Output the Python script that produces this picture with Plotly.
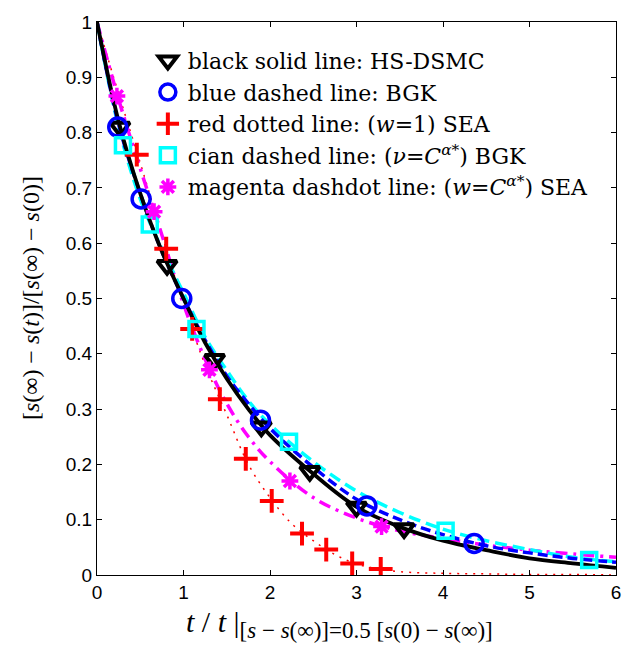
import plotly.graph_objects as go

# ---- line data ----
x_black = [0, 0.25, 0.5, 0.75, 1, 1.25, 1.5, 1.75, 2, 2.5, 3, 3.5, 4, 4.5, 5, 5.5, 6]
y_black = [1.0, 0.82, 0.69, 0.585, 0.50, 0.42, 0.355, 0.30, 0.253, 0.183, 0.123, 0.087, 0.062, 0.045, 0.03, 0.021, 0.013]

x_blue = [0, 0.25, 0.5, 0.75, 1, 1.25, 1.5, 1.75, 2, 2.5, 3, 3.5, 4, 4.5, 5, 5.5, 6]
y_blue = [1.0, 0.815, 0.69, 0.585, 0.50, 0.425, 0.36, 0.31, 0.265, 0.195, 0.137, 0.10, 0.073, 0.053, 0.04, 0.03, 0.023]

x_red = [0, 0.25, 0.5, 0.75, 1, 1.25, 1.5, 1.75, 2, 2.25, 2.5, 2.75, 3, 3.25, 3.5, 4, 4.5, 5, 5.5, 6]
y_red = [1.0, 0.87, 0.745, 0.615, 0.49, 0.38, 0.29, 0.20, 0.14, 0.093, 0.062, 0.037, 0.02, 0.011, 0.006, 0.003, 0.002, 0.001, 0.001, 0.0]

x_cyan = [0, 0.25, 0.5, 0.75, 1, 1.25, 1.5, 1.75, 2, 2.5, 3, 3.5, 4, 4.5, 5, 5.5, 6]
y_cyan = [1.0, 0.81, 0.68, 0.59, 0.51, 0.43, 0.37, 0.315, 0.272, 0.205, 0.152, 0.113, 0.083, 0.062, 0.046, 0.032, 0.024]

x_mag = [0, 0.25, 0.5, 0.75, 1, 1.25, 1.5, 1.75, 2, 2.5, 3, 3.5, 4, 4.5, 5, 5.5, 6]
y_mag = [1.0, 0.86, 0.735, 0.615, 0.49, 0.39, 0.31, 0.25, 0.205, 0.14, 0.103, 0.08, 0.066, 0.054, 0.045, 0.038, 0.032]

# ---- marker data ----
mx_black = [0.265, 0.81, 1.36, 1.90, 2.46, 3.0, 3.55]
my_black = [0.81, 0.56, 0.39, 0.268, 0.1875, 0.123, 0.084]

mx_blue = [0.24, 0.51, 0.98, 1.89, 3.12, 4.36]
my_blue = [0.81, 0.68, 0.50, 0.28, 0.125, 0.057]

mx_red = [0.46, 0.80, 1.10, 1.42, 1.72, 2.02, 2.37, 2.65, 2.95, 3.28]
my_red = [0.76, 0.59, 0.445, 0.318, 0.21, 0.134, 0.075, 0.046, 0.021, 0.011]

mx_cyan = [0.30, 0.61, 1.15, 2.22, 4.03, 5.69]
my_cyan = [0.777, 0.634, 0.445, 0.241, 0.08, 0.027]

mx_mag = [0.23, 0.66, 1.30, 2.23, 3.29]
my_mag = [0.866, 0.657, 0.371, 0.17, 0.0875]

legend_names = [
    "black solid line: HS-DSMC",
    "blue dashed line: BGK",
    "red dotted line: (<i>w</i>=1) SEA",
    "cian dashed line: (<i>ν</i>=<i>C</i><sup><i>α</i>*</sup>) BGK",
    "magenta dashdot line: (<i>w</i>=<i>C</i><sup><i>α</i>*</sup>) SEA",
]

SERIF = "Liberation Serif, Times New Roman, serif"
LEGSERIF = "DejaVu Serif, serif"

fig = go.Figure()

# lines (not in legend)
fig.add_trace(go.Scatter(x=x_red, y=y_red, mode="lines", line=dict(color="#ff0000", width=1.5, dash="2px,6px", shape="spline"), showlegend=False))
fig.add_trace(go.Scatter(x=x_mag, y=y_mag, mode="lines", line=dict(color="#ff00ff", width=3.5, dash="12px,6px,3px,6px", shape="spline"), showlegend=False))
fig.add_trace(go.Scatter(x=x_cyan, y=y_cyan, mode="lines", line=dict(color="#00ffff", width=3.5, dash="12px,6px", shape="spline"), showlegend=False))
fig.add_trace(go.Scatter(x=x_blue, y=y_blue, mode="lines", line=dict(color="#0000ff", width=3.5, dash="10px,5px", shape="spline"), showlegend=False))
fig.add_trace(go.Scatter(x=x_black, y=y_black, mode="lines", line=dict(color="#000000", width=3.8, shape="spline"), showlegend=False))

# markers (in legend)
fig.add_trace(go.Scatter(x=mx_black, y=my_black, mode="markers", name=legend_names[0],
                         marker=dict(symbol="triangle-down-open", size=17, color="#000000", line=dict(width=4, color="#000000"))))
fig.add_trace(go.Scatter(x=mx_blue, y=my_blue, mode="markers", name=legend_names[1],
                         marker=dict(symbol="circle-open", size=18, color="#0000ff", line=dict(width=3.5, color="#0000ff"))))
fig.add_trace(go.Scatter(x=mx_red, y=my_red, mode="markers", name=legend_names[2],
                         marker=dict(symbol="cross-thin-open", size=17, color="#ff0000", line=dict(width=4, color="#ff0000"))))
fig.add_trace(go.Scatter(x=mx_cyan, y=my_cyan, mode="markers", name=legend_names[3],
                         marker=dict(symbol="square-open", size=15, color="#00ffff", line=dict(width=3.5, color="#00ffff"))))
fig.add_trace(go.Scatter(x=mx_mag, y=my_mag, mode="markers", name=legend_names[4],
                         marker=dict(symbol="asterisk-open", size=14, color="#ff00ff", line=dict(width=3.5, color="#ff00ff"))))

axis_common = dict(
    showgrid=False, zeroline=False, showline=True, linecolor="black", linewidth=1,
    mirror="ticks", ticks="inside", ticklen=5, tickwidth=1, tickcolor="black",
    tickfont=dict(family="Liberation Sans, Arial, sans-serif", size=19, color="black"),
)

fig.update_xaxes(range=[0, 6], tickvals=[0, 1, 2, 3, 4, 5, 6], ticktext=["0", "1", "2", "3", "4", "5", "6"], **axis_common)
fig.update_yaxes(range=[0, 1], tickvals=[0, 0.1, 0.2, 0.3, 0.4, 0.5, 0.6, 0.7, 0.8, 0.9, 1],
                 ticktext=["0", "0.1", "0.2", "0.3", "0.4", "0.5", "0.6", "0.7", "0.8", "0.9", "1"], **axis_common)

xtitle = ("<i>t</i> / <i>t</i> |"
          "<sub><span style='font-size:23px'>[<i>s</i> − <i>s</i>(∞)]=0.5 [<i>s</i>(0) − <i>s</i>(∞)]</span></sub>")

fig.update_layout(
    width=633, height=648,
    margin=dict(l=97, r=16, t=15, b=73),
    plot_bgcolor="white", paper_bgcolor="white",
    legend=dict(x=0.098, y=0.968, xanchor="left", yanchor="top", bgcolor="rgba(0,0,0,0)",
                font=dict(family=LEGSERIF, size=22, color="black"),
                itemwidth=30, tracegroupgap=0),
    annotations=[
        dict(text="[<i>s</i>(∞) − <i>s</i>(<i>t</i>)]/[<i>s</i>(∞) − <i>s</i>(0)]",
             xref="paper", yref="paper", x=-0.128, y=0.5, textangle=-90, showarrow=False,
             xanchor="center", yanchor="middle",
             font=dict(family=SERIF, size=24, color="black")),
        dict(text=xtitle,
             xref="paper", yref="paper", x=0.467, y=-0.088, showarrow=False,
             xanchor="center", yanchor="middle",
             font=dict(family=SERIF, size=30, color="black")),
    ],
)

fig.write_html("out.html", config={"displayModeBar": False},
               post_script="document.body.style.margin='0';")
